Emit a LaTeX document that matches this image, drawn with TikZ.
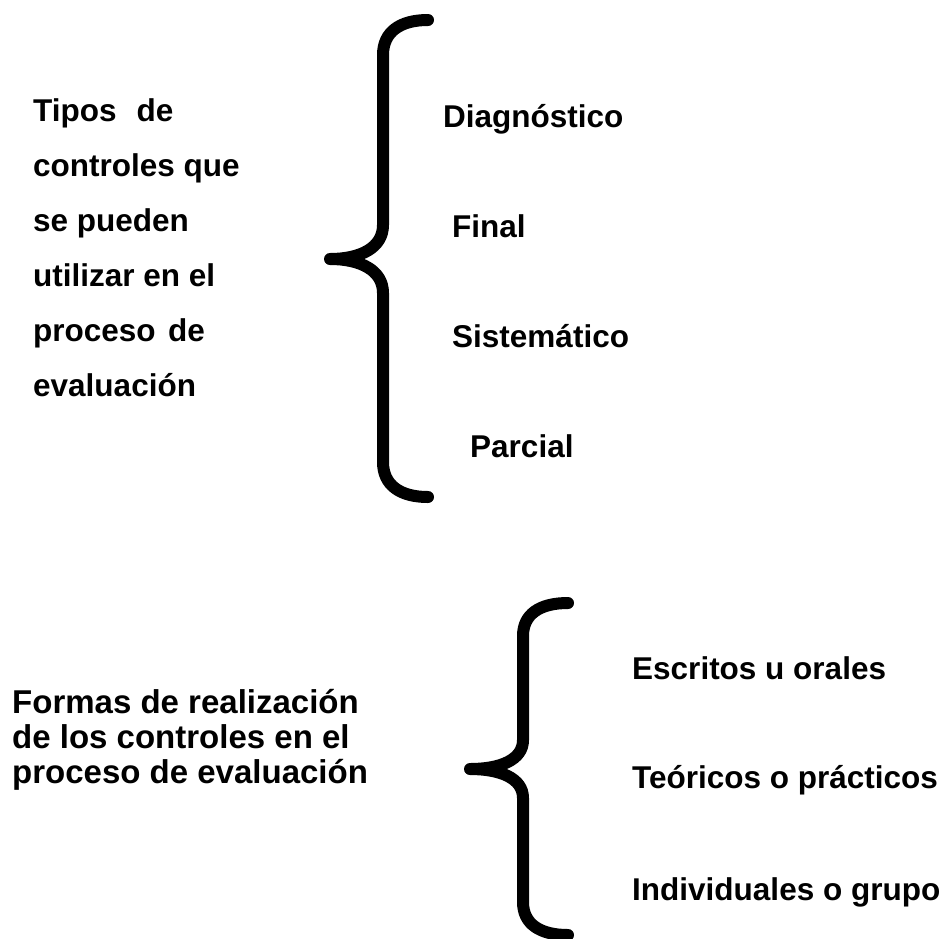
\documentclass[tikz,border=0pt]{standalone}
\usepackage{fontspec}
\setmainfont{Liberation Sans}
\begin{document}
\begin{tikzpicture}[x=1pt,y=-1pt,
  lbl/.style={anchor=base west,inner sep=0pt,font=\bfseries\fontsize{31.5}{36}\selectfont},
  lblb/.style={anchor=base west,inner sep=0pt,font=\bfseries\fontsize{33}{36}\selectfont},
  brace/.style={line width=12pt,line cap=round,line join=round}]
\useasboundingbox (0,0) rectangle (949,938);
% top-left text
\node[lbl] (t1) at (33,121) {Tipos\hspace{20pt}de};
\node[lbl] (t2) at (33,176) {controles que};
\node[lbl] (t3) at (33,231) {se pueden};
\node[lbl] (t4) at (33,286) {utilizar en el};
\node[lbl] (t5) at (33,341) {proceso\hspace{12.5pt}de};
\node[lbl] (t6) at (33,396) {evaluación};
% top brace
\draw[brace] (428,20) .. controls (400,20) and (383,32) .. (383,55)
  -- (383,225) .. controls (383,248) and (360,259) .. (330,259)
  .. controls (360,259) and (383,270) .. (383,293)
  -- (383,462) .. controls (383,485) and (400,497) .. (428,497);
% top-right items
\node[lbl] (d1) at (443,127) {Diagnóstico};
\node[lbl] (d2) at (452,237) {Final};
\node[lbl] (d3) at (452,347) {Sistemático};
\node[lbl] (d4) at (470,457) {Parcial};
% bottom-left text
\node[lblb] (f1) at (12,713) {Formas de realización};
\node[lblb] (f2) at (12,748) {de los controles en el};
\node[lblb] (f3) at (12,783) {proceso de evaluación};
% bottom brace
\draw[brace] (568,603) .. controls (540,603) and (523,614) .. (523,636)
  -- (523,740) .. controls (523,760) and (500,769) .. (470,769)
  .. controls (500,769) and (523,778) .. (523,798)
  -- (523,902) .. controls (523,924) and (540,935) .. (568,935);
% bottom-right items
\node[lbl] (e1) at (632,679) {Escritos u orales};
\node[lbl] (e2) at (632,788) {Teóricos o prácticos};
\node[lbl] (e3) at (632,900) {Individuales o grupo};
\end{tikzpicture}
\end{document}
